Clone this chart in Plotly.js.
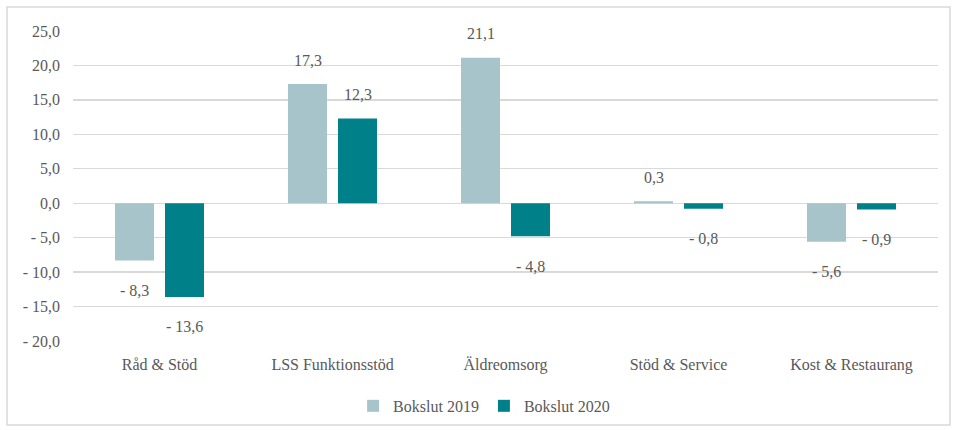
<!DOCTYPE html>
<html>
<head>
<meta charset="utf-8">
<script src="https://cdn.plot.ly/plotly-3.0.1.min.js"></script>
<style>html,body{margin:0;padding:0;background:#fff;}#chart{width:953px;height:430px;}</style>
</head>
<body>
<div id="chart"></div>
<script>
const categories = ["Råd & Stöd", "LSS Funktionsstöd", "Äldreomsorg", "Stöd & Service", "Kost & Restaurang"];
const seriesNames = ["Bokslut 2019", "Bokslut 2020"];
const values2019 = [-8.3, 17.3, 21.1, 0.3, -5.6];
const values2020 = [-13.6, 12.3, -4.8, -0.8, -0.9];
const tickValues = [-20, -15, -10, -5, 0, 5, 10, 15, 20, 25];

const colors = ["#A7C4CA", "#00818A"];
const textColor = "#595959";
const fontFamily = "'Liberation Serif', 'DejaVu Serif', serif";
const fontSize = 16;

function fmt(v) {
  const s = Math.abs(v).toFixed(1).replace(".", ",");
  return v < 0 ? "- " + s : s;
}

const traces = [values2019, values2020].map((vals, i) => ({
  type: "bar",
  name: seriesNames[i],
  x: categories,
  y: vals,
  marker: { color: colors[i] },
  hoverinfo: "skip"
}));

const annotations = [];
[values2019, values2020].forEach((vals, i) => {
  vals.forEach((v, j) => {
    annotations.push({
      x: categories[j], y: v, xref: "x", yref: "y",
      text: fmt(v), showarrow: false,
      xshift: i === 0 ? -25 : 25,
      yshift: v >= 0 ? 24 : -30,
      xanchor: "center", yanchor: "middle",
      font: { family: fontFamily, size: fontSize, color: textColor }
    });
  });
});

const layout = {
  width: 953, height: 430,
  margin: { l: 73, r: 15, t: 31, b: 89, autoexpand: false },
  paper_bgcolor: "#fff", plot_bgcolor: "#fff",
  font: { family: fontFamily, size: fontSize, color: textColor },
  barmode: "group",
  bargap: 0.422,
  bargroupgap: 0.22,
  showlegend: true,
  legend: {
    orientation: "h", xref: "container", yref: "container",
    x: 0.508, xanchor: "center", y: 0.056, yanchor: "middle",
    font: { family: fontFamily, size: fontSize, color: textColor },
    itemwidth: 30, traceorder: "normal"
  },
  xaxis: {
    type: "category",
    showgrid: false, zeroline: false, showline: false,
    ticks: "", ticklabelstandoff: 12,
    tickfont: { family: fontFamily, size: fontSize, color: textColor }
  },
  yaxis: {
    range: [-20, 25],
    tickvals: tickValues,
    ticktext: tickValues.map(fmt),
    showgrid: true, gridcolor: "#D9D9D9", gridwidth: 1.3,
    zeroline: true, zerolinecolor: "#D9D9D9", zerolinewidth: 1.3,
    showline: false, ticks: "", ticklabelstandoff: 12,
    tickfont: { family: fontFamily, size: fontSize, color: textColor }
  },
  annotations: annotations,
  shapes: [{
    type: "rect", xref: "paper", yref: "paper",
    x0: -0.0763, x1: 1.0139, y0: -0.271, y1: 1.0774,
    line: { color: "#D9D9D9", width: 1.5 }, fillcolor: "rgba(0,0,0,0)", layer: "below"
  }]
};

Plotly.newPlot("chart", traces, layout, { displayModeBar: false, staticPlot: true });
</script>
</body>
</html>
